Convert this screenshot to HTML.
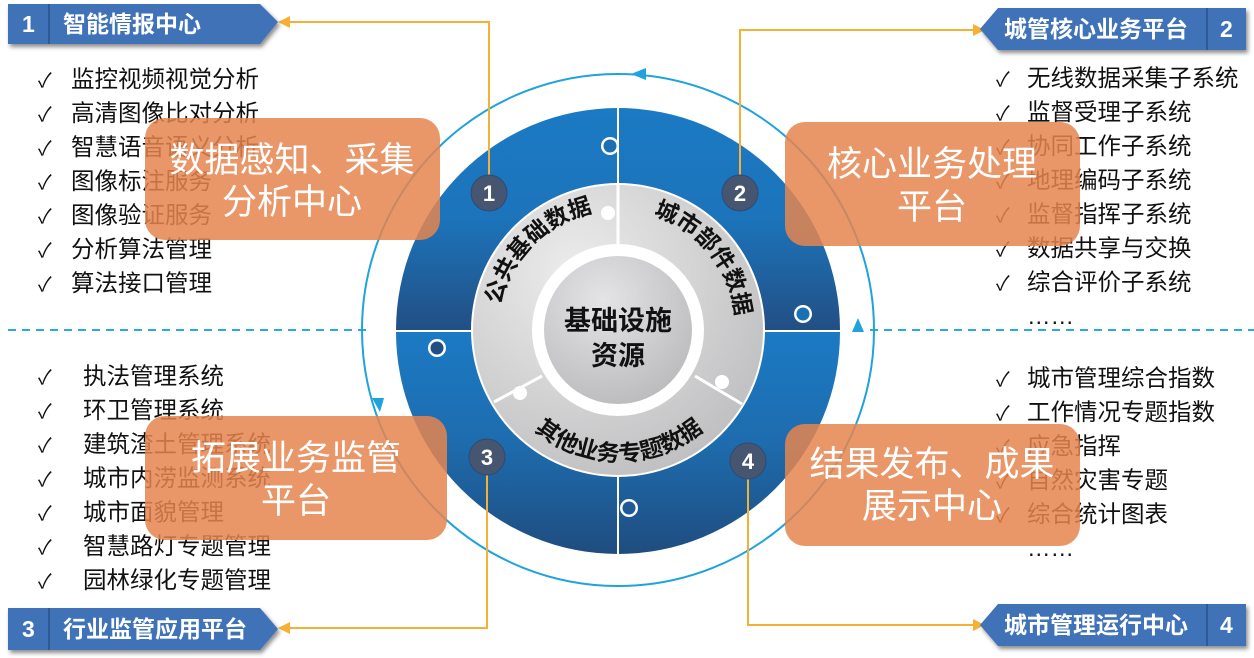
<!DOCTYPE html>
<html><head><meta charset="utf-8">
<style>
html,body{margin:0;padding:0;background:#fff;}
svg{display:block;}
text{font-family:"Liberation Sans","Noto Sans CJK SC",sans-serif;}
.li{font-size:23.5px;fill:#111;}
.ck{font-size:20px;fill:#111;font-family:"DejaVu Sans",sans-serif;}
.hd{font-size:23px;fill:#fff;font-weight:bold;}
.ob{font-size:35px;fill:#fff;}
</style></head><body>
<svg width="1254" height="658" viewBox="0 0 1254 658" xmlns="http://www.w3.org/2000/svg">
<defs>
<linearGradient id="gt" x1="0" y1="105" x2="0" y2="330" gradientUnits="userSpaceOnUse">
<stop offset="0" stop-color="#1b7ac4"/><stop offset="0.5" stop-color="#1c74bb"/><stop offset="1" stop-color="#224f84"/></linearGradient>
<linearGradient id="gb" x1="0" y1="332" x2="0" y2="553" gradientUnits="userSpaceOnUse">
<stop offset="0" stop-color="#1b7ac4"/><stop offset="0.5" stop-color="#1e6cae"/><stop offset="1" stop-color="#1f4d80"/></linearGradient>
<radialGradient id="gr" cx="0.35" cy="0.3" r="0.8"><stop offset="0" stop-color="#ececec"/><stop offset="1" stop-color="#bdbdbf"/></radialGradient>
<radialGradient id="gc" cx="0.4" cy="0.3" r="0.8"><stop offset="0" stop-color="#e4e4e6"/><stop offset="1" stop-color="#b8b8bb"/></radialGradient>
<filter id="sh" x="-5%" y="-20%" width="115%" height="160%"><feDropShadow dx="2" dy="3" stdDeviation="2" flood-color="#000" flood-opacity="0.45"/></filter>
<path id="pa1" d="M 498 330 A 120 120 0 0 1 618 210"/>
<path id="pa2" d="M 640 212 A 118 118 0 0 1 736 330"/>
<path id="pa3" d="M 514 408 A 130 130 0 0 0 724 408"/>
</defs>

<line x1="8" y1="330" x2="368" y2="330" stroke="#2aa8e0" stroke-width="2" stroke-dasharray="8,6"/>
<line x1="870" y1="330" x2="1254" y2="330" stroke="#2aa8e0" stroke-width="2" stroke-dasharray="8,6"/>

<circle cx="618" cy="330" r="256" fill="none" stroke="#1fa3dc" stroke-width="2"/>
<polygon points="630,68 645,74 630,80" fill="#1fa3dc" transform="rotate(180 638 74)"/>
<polygon points="372,398 384,398 380,412" fill="#1fa3dc"/>
<polygon points="852,332 864,332 858,318" fill="#1fa3dc"/>

<path d="M396 330 A222 222 0 0 1 840 330 Z" fill="url(#gt)"/>
<path d="M396 332 A222 222 0 0 0 840 332 Z" fill="url(#gb)"/>
<g stroke="#fff" stroke-width="2" fill="none">
<line x1="396" y1="331" x2="840" y2="331"/>
<line x1="618" y1="105" x2="618" y2="555"/>
</g>
<g fill="#fff">
<circle cx="610" cy="146" r="9"/><circle cx="437" cy="348" r="9"/><circle cx="803" cy="314" r="9"/><circle cx="629" cy="508" r="9"/>
</g>
<g fill="#1c6fb2">
<circle cx="610" cy="146" r="6.5"/><circle cx="437" cy="348" r="6.5" fill="#214f84"/><circle cx="803" cy="314" r="6.5"/><circle cx="629" cy="508" r="6.5" fill="#1e5a95"/>
</g>

<circle cx="618" cy="330" r="147" fill="#fff"/>
<circle cx="618" cy="330" r="145" fill="url(#gr)"/>
<g stroke="#fff" stroke-width="3">
<line x1="618" y1="185" x2="618" y2="245"/>
<line x1="695" y1="376" x2="742" y2="404"/>
<line x1="542" y1="376" x2="494" y2="402"/>
</g>
<circle cx="608" cy="213" r="7" fill="#fff"/><circle cx="722" cy="382" r="7" fill="#fff"/><circle cx="520" cy="393" r="7" fill="#fff"/>
<circle cx="618" cy="330" r="86" fill="#fff"/>
<circle cx="618" cy="330" r="74" fill="url(#gc)"/>
<text x="618" y="330" text-anchor="middle" font-size="27" font-weight="bold" fill="#111">基础设施</text>
<text x="618" y="365" text-anchor="middle" font-size="27" font-weight="bold" fill="#111">资源</text>
<text font-size="23" font-weight="bold" fill="#111"><textPath href="#pa1" startOffset="50%" text-anchor="middle">公共基础数据</textPath></text>
<text font-size="23" font-weight="bold" fill="#111"><textPath href="#pa2" startOffset="50%" text-anchor="middle">城市部件数据</textPath></text>
<text font-size="23" font-weight="bold" fill="#111"><textPath href="#pa3" startOffset="50%" text-anchor="middle">其他业务专题数据</textPath></text>

<g stroke="#f5b036" stroke-width="2" fill="none">
<polyline points="489,176 489,22 288,22"/>
<polyline points="740,176 740,30 975,30"/>
<polyline points="487,474 487,628 288,628"/>
<polyline points="748,478 748,625 975,625"/>
</g>
<g fill="#f5b036">
<polygon points="278,22 290,16 290,28"/>
<polygon points="985,30 973,24 973,36"/>
<polygon points="278,628 290,622 290,634"/>
<polygon points="985,625 973,619 973,631"/>
</g>

<g fill="#465570" stroke="#2f4a73" stroke-width="1">
<circle cx="489" cy="193" r="18"/><circle cx="740" cy="193" r="18"/><circle cx="487" cy="457" r="18"/><circle cx="748" cy="461" r="18"/>
</g>
<g font-size="22" font-weight="bold" fill="#fff" text-anchor="middle">
<text x="489" y="201">1</text><text x="740" y="201">2</text><text x="487" y="465">3</text><text x="748" y="469">4</text>
</g>

<g class="ck">
<text x="38" y="87">✓</text><text x="38" y="121">✓</text><text x="38" y="155">✓</text><text x="38" y="189">✓</text><text x="38" y="223">✓</text><text x="38" y="257">✓</text><text x="38" y="291">✓</text>
<text x="996" y="86">✓</text><text x="996" y="120">✓</text><text x="996" y="154">✓</text><text x="996" y="188">✓</text><text x="996" y="222">✓</text><text x="996" y="256">✓</text><text x="996" y="290">✓</text>
<text x="38" y="384">✓</text><text x="38" y="418">✓</text><text x="38" y="452">✓</text><text x="38" y="486">✓</text><text x="38" y="520">✓</text><text x="38" y="554">✓</text><text x="38" y="588">✓</text>
<text x="996" y="386">✓</text><text x="996" y="420">✓</text><text x="996" y="454">✓</text><text x="996" y="488">✓</text><text x="996" y="522">✓</text>
</g>
<g class="li">
<text x="71" y="87">监控视频视觉分析</text><text x="71" y="121">高清图像比对分析</text><text x="71" y="155">智慧语音语义分析</text><text x="71" y="189">图像标注服务</text><text x="71" y="223">图像验证服务</text><text x="71" y="257">分析算法管理</text><text x="71" y="291">算法接口管理</text>
<text x="1027" y="86">无线数据采集子系统</text><text x="1027" y="120">监督受理子系统</text><text x="1027" y="154">协同工作子系统</text><text x="1027" y="188">地理编码子系统</text><text x="1027" y="222">监督指挥子系统</text><text x="1027" y="256">数据共享与交换</text><text x="1027" y="290">综合评价子系统</text><text x="1027" y="324">……</text>
<text x="83" y="384">执法管理系统</text><text x="83" y="418">环卫管理系统</text><text x="83" y="452">建筑渣土管理系统</text><text x="83" y="486">城市内涝监测系统</text><text x="83" y="520">城市面貌管理</text><text x="83" y="554">智慧路灯专题管理</text><text x="83" y="588">园林绿化专题管理</text>
<text x="1027" y="386">城市管理综合指数</text><text x="1027" y="420">工作情况专题指数</text><text x="1027" y="454">应急指挥</text><text x="1027" y="488">自然灾害专题</text><text x="1027" y="522">综合统计图表</text><text x="1027" y="556">……</text>
</g>

<g fill="#e5854f" fill-opacity="0.85">
<rect x="145" y="118" width="295" height="122" rx="20"/>
<rect x="785" y="122" width="295" height="124" rx="20"/>
<rect x="145" y="416" width="302" height="124" rx="20"/>
<rect x="785" y="424" width="295" height="122" rx="20"/>
</g>
<g class="ob" text-anchor="middle">
<text x="292" y="172">数据感知、采集</text><text x="292" y="214">分析中心</text>
<text x="932" y="176">核心业务处理</text><text x="932" y="219">平台</text>
<text x="296" y="470">拓展业务监管</text><text x="296" y="513">平台</text>
<text x="932" y="476">结果发布、成果</text><text x="932" y="518">展示中心</text>
</g>

<g filter="url(#sh)" fill="#3f72b8">
<polygon points="8,4 260,4 278,22 260,44 8,44"/>
<polygon points="1246,8 998,8 980,29 998,50 1246,50"/>
<polygon points="8,608 260,608 278,629 260,650 8,650"/>
<polygon points="1246,604 998,604 980,625 998,646 1246,646"/>
</g>
<g stroke="#2e5a96" stroke-width="2">
<line x1="49" y1="4" x2="49" y2="44"/><line x1="1207" y1="8" x2="1207" y2="50"/>
<line x1="49" y1="608" x2="49" y2="650"/><line x1="1207" y1="604" x2="1207" y2="646"/>
</g>
<g class="hd">
<text x="22" y="32">1</text><text x="63" y="32">智能情报中心</text>
<text x="1220" y="37">2</text><text x="1004" y="37">城管核心业务平台</text>
<text x="22" y="637">3</text><text x="63" y="637">行业监管应用平台</text>
<text x="1220" y="633">4</text><text x="1004" y="633">城市管理运行中心</text>
</g>
</svg>
</body></html>
